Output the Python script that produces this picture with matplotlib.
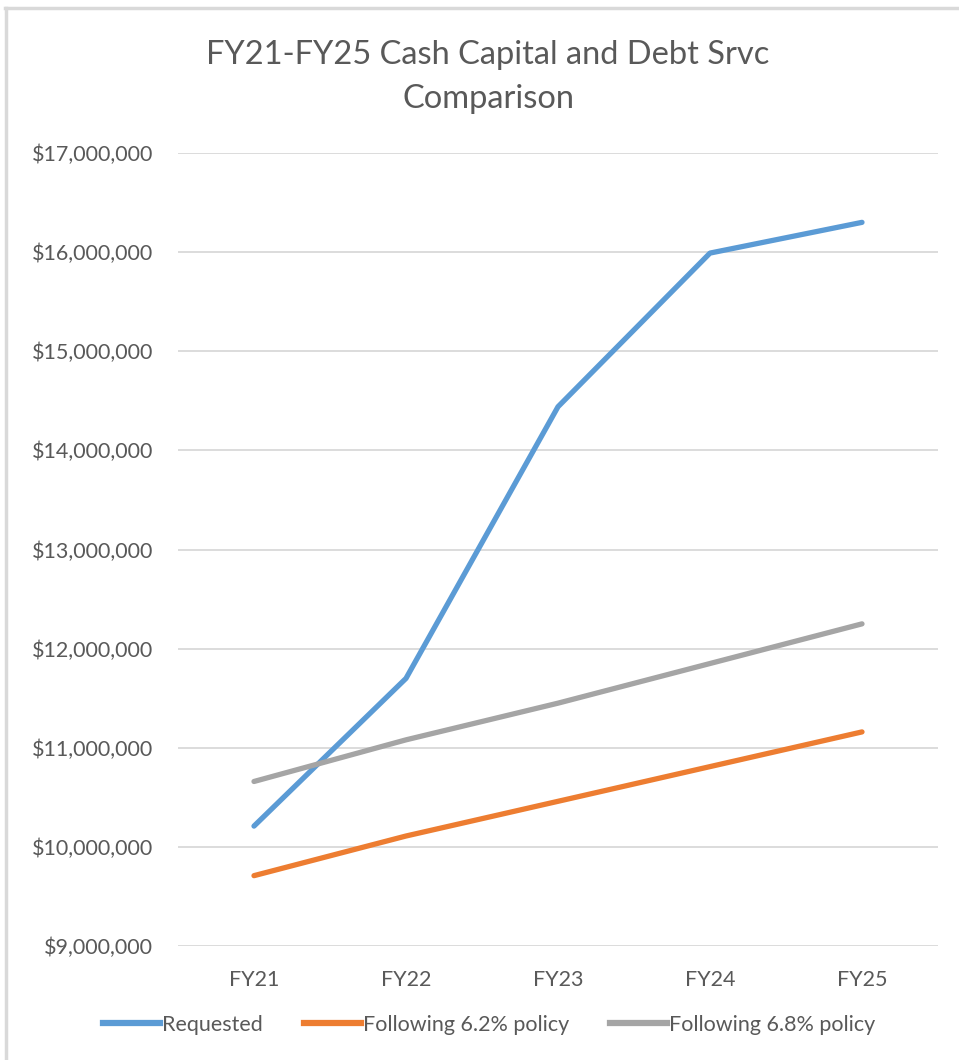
import matplotlib
matplotlib.use("Agg")
import matplotlib.pyplot as plt
from matplotlib.lines import Line2D
from matplotlib.ticker import FuncFormatter

plt.rcParams['font.family'] = ['Lato', 'DejaVu Sans']

years = ["FY21", "FY22", "FY23", "FY24", "FY25"]
requested = [10210000, 11700000, 14440000, 15990000, 16300000]
policy_62 = [9710000, 10110000, 10460000, 10810000, 11160000]
policy_68 = [10660000, 11080000, 11450000, 11850000, 12250000]

labels = ["Requested", "Following 6.2% policy", "Following 6.8% policy"]
colors = ["#5b9bd5", "#ed7d31", "#a5a5a5"]

fig = plt.figure(figsize=(9.59, 10.6), dpi=100)
ax = fig.add_axes([0.1856, 0.1075, 0.7925, 0.7482])

x = range(len(years))
for vals, lab, c in zip([requested, policy_62, policy_68], labels, colors):
    ax.plot(x, vals, color=c, linewidth=3.8, label=lab, solid_capstyle='round')

ax.set_xlim(-0.5, len(years) - 0.5)
ax.set_ylim(9000000, 17000000)
ax.set_yticks(range(9000000, 17000001, 1000000))
ax.yaxis.set_major_formatter(FuncFormatter(lambda v, p: "${:,.0f}".format(v)))
ax.set_xticks(list(x))
ax.set_xticklabels(years)
ax.grid(axis='y', color='#d9d9d9', linewidth=1.3)
ax.set_axisbelow(True)
for s in ax.spines.values():
    s.set_visible(False)
ax.tick_params(length=0, labelsize=15.5, labelcolor='#595959')
ax.tick_params(axis='y', pad=18)
ax.tick_params(axis='x', pad=17)

fig.text(0.509, 0.948, "FY21-FY25 Cash Capital and Debt Srvc", ha='center', va='center',
         fontsize=23.5, color='#595959')
fig.text(0.509, 0.907, "Comparison", ha='center', va='center', fontsize=23.5, color='#595959')

handles = [Line2D([], [], color=c, linewidth=4.5) for c in colors]
fig.legend(handles, labels, loc='center', bbox_to_anchor=(0.51, 0.033), ncol=3, frameon=False,
           fontsize=15.5, labelcolor='#595959', handlelength=2.65, handletextpad=0.1,
           columnspacing=1.9)

# chart frame
fig.add_artist(Line2D([0.005, 1.0], [0.9925, 0.9925], color='#d9d9d9', linewidth=2.5))
fig.add_artist(Line2D([0.006, 0.006], [0.0, 0.9925], color='#d9d9d9', linewidth=2.5))

fig.savefig("out.png", dpi=100)
